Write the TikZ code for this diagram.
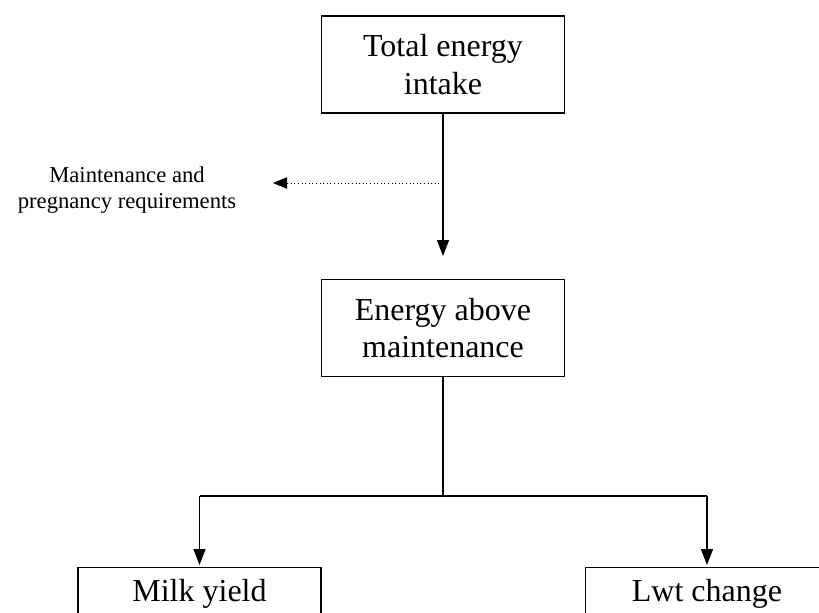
\documentclass[tikz,border=0pt]{standalone}
\usepackage{fontspec}
\setmainfont{Liberation Serif}
\usetikzlibrary{arrows.meta, calc}

\begin{document}
\begin{tikzpicture}[x=0.75pt, y=-0.75pt,
box/.style={draw, line width=1.2pt, minimum width=182.25pt, minimum height=72.75pt, align=center, font=\fontsize{24}{28}\selectfont, inner sep=0pt},
openbox/.style={draw, line width=1pt, minimum width=182.25pt, anchor=north, font=\fontsize{24}{28}\selectfont, inner xsep=0pt, inner ysep=8pt, text height=17pt, text depth=60pt},
line/.style={line width=1pt},
arr/.style={line width=1pt, -{Triangle[width=9pt, length=12pt]}},
dotarr/.style={line width=0.7pt, dotted, -{Triangle[width=8.5pt, length=10.5pt]}}]
\useasboundingbox (0,0) rectangle (819,612);
\clip (0,0) rectangle (819,612);

\node[box] (total) at (443,64.5) {Total energy\\intake};
\node[box] (mid) at (443,328) {Energy above\\maintenance};
\node[align=center, font=\fontsize{17}{20}\selectfont] (maint) at (127,190) {Maintenance and\\pregnancy requirements};
\node[openbox] (milk) at (199.5,567) {Milk yield};
\node[openbox] (lwt) at (707,567) {Lwt change};

\coordinate (split) at (443,183);
\coordinate (mreq) at (273,183);
\coordinate (fork) at (443,496);

% intake to maintenance
\draw[arr, shorten >=17pt] (total.south) -- (total.south |- mid.north);
\draw[dotarr] (split) -- (mreq);

% split to milk and liveweight
\draw[line] (mid.south) -- (fork);
\draw[line] (milk.north |- fork) -- (lwt.north |- fork);
\draw[arr, shorten >=1.5pt] (milk.north |- fork) -- (milk.north);
\draw[arr, shorten >=1.5pt] (lwt.north |- fork) -- (lwt.north);
\end{tikzpicture}
\end{document}
